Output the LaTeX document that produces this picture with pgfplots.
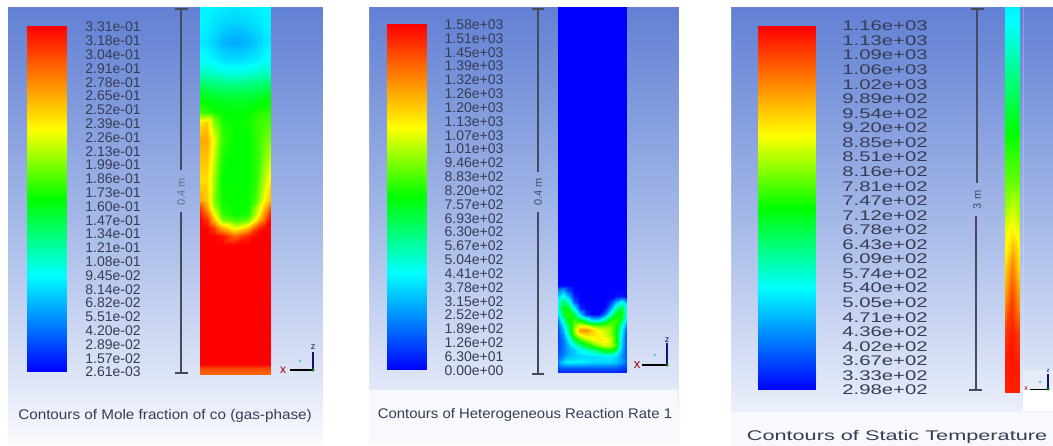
\documentclass[border=0pt]{standalone}
\usepackage{pgfplots}
\pgfplotsset{compat=1.18}
\usepackage{pgfplotstable}
\usepackage{fontspec}
\setmainfont{Liberation Sans}
\newfontfamily\widefont[FakeStretch=1.45]{Liberation Sans}
\newfontfamily\titleA[FakeStretch=1.09]{Liberation Sans}
\newfontfamily\titleB[FakeStretch=1.065]{Liberation Sans}
\newfontfamily\titleC[FakeStretch=1.55]{Liberation Sans}
\definecolor{tc}{RGB}{55,60,82}
\definecolor{barc}{RGB}{70,75,92}
\definecolor{navy}{RGB}{20,20,110}
\definecolor{panelend}{RGB}{247,249,253}
\definecolor{triadbox}{RGB}{232,236,248}
\pgfplotsset{
 colormap={fluent}{rgb255(0)=(0,0,255); rgb255(28)=(0,255,255); rgb255(50)=(0,255,0); rgb255(70)=(255,255,0); rgb255(100)=(255,0,0)},
 colormap={bg}{rgb255(0)=(98,128,212); rgb255(49)=(165,185,232); rgb255(85)=(222,229,247); rgb255(100)=(250,251,254)},
 lab/.style={draw=none,mark=none,nodes near coords,point meta=explicit symbolic,
   every node near coord/.style={anchor=center,inner sep=0pt,text=tc,font=\fontsize{14}{14}\selectfont}},
 labw/.style={lab,every node near coord/.style={anchor=center,inner sep=0pt,text=tc,font=\widefont\fontsize{14}{14}\selectfont}},
 bar/.style={barc,line width=1.8pt,forget plot},
 field/.style={surf,shader=interp,colormap name=fluent},
}
\pgfplotstableread{
c v
0 0
1 0
0 0.14
1 0.14
0 0.28
1 0.28
0 0.39
1 0.39
0 0.50
1 0.50
0 0.60
1 0.60
0 0.70
1 0.70
0 0.85
1 0.85
0 1
1 1
}\cbar
\begin{document}
\begin{tikzpicture}
\begin{axis}[scale only axis,width=1053pt,height=446pt,xmin=0,xmax=1053,ymin=0,ymax=446,zmin=0,zmax=1,
 y dir=reverse,view={0}{90},hide axis,clip=false,point meta min=0,point meta max=1]
\path (axis cs:0,0,0) (axis cs:1053,446,0);
% backgrounds
\addplot3[surf,shader=interp,colormap name=bg,mesh/rows=2,mesh/cols=2] coordinates {(8,7,0)(322,7,0) (8,445,1)(322,445,1)};
\addplot3[surf,shader=interp,colormap name=bg,mesh/rows=2,mesh/cols=2] coordinates {(369,7,0)(678,7,0) (369,445,1)(678,445,1)};
\addplot3[surf,shader=interp,colormap name=bg,mesh/rows=2,mesh/cols=2] coordinates {(731,7,0)(1053,7,0) (731,446,1)(1053,446,1)};
\addplot[draw=none,fill=panelend] coordinates {(369,390)(678,390)(678,444)(369,444)} \closedcycle;
\addplot[draw=none,fill=panelend] coordinates {(731,412)(1053,412)(1053,446)(731,446)} \closedcycle;
\addplot[draw=none,fill=triadbox] coordinates {(1023,370)(1053,370)(1053,390)(1023,390)} \closedcycle;
\addplot[draw=none,fill=white] coordinates {(1023,390)(1053,390)(1053,411)(1023,411)} \closedcycle;
% colour bars
\addplot3[surf,shader=interp,colormap name=fluent,mesh/cols=2] table[x expr=27+39*\thisrow{c},y expr=372-346*\thisrow{v},z=v]{\cbar};
\addplot3[surf,shader=interp,colormap name=fluent,mesh/cols=2] table[x expr=387+39*\thisrow{c},y expr=370-346*\thisrow{v},z=v]{\cbar};
\addplot3[surf,shader=interp,colormap name=fluent,mesh/cols=2] table[x expr=758+57*\thisrow{c},y expr=390-364*\thisrow{v},z=v]{\cbar};
% field 1: mole fraction of CO
\addplot3[field,mesh/cols=9] coordinates {
(200,7,.27)(207,7,.27)(214,7,.265)(222,7,.26)(235,7,.25)(248,7,.26)(256,7,.265)(264,7,.27)(270,7,.27)
(200,22,.27)(207,22,.265)(214,22,.25)(222,22,.24)(235,22,.23)(248,22,.24)(256,22,.25)(264,22,.265)(270,22,.27)
(200,42,.26)(207,42,.25)(214,42,.23)(222,42,.2)(235,42,.185)(248,42,.2)(256,42,.22)(264,42,.25)(270,42,.26)
(200,60,.29)(207,60,.28)(214,60,.27)(222,60,.25)(235,60,.24)(248,60,.25)(256,60,.26)(264,60,.28)(270,60,.29)
(200,72,.33)(207,72,.33)(214,72,.32)(222,72,.31)(235,72,.30)(248,72,.31)(256,72,.32)(264,72,.33)(270,72,.33)
(200,86,.43)(207,86,.42)(214,86,.41)(222,86,.40)(235,86,.40)(248,86,.40)(256,86,.41)(264,86,.42)(270,86,.43)
(200,100,.50)(207,100,.49)(214,100,.48)(222,100,.47)(235,100,.47)(248,100,.47)(256,100,.48)(264,100,.49)(270,100,.50)
(200,112,.55)(207,112,.53)(214,112,.51)(222,112,.50)(235,112,.49)(248,112,.50)(256,112,.52)(264,112,.53)(270,112,.53)
(200,122,.72)(207,122,.76)(214,122,.60)(222,122,.52)(235,122,.50)(248,122,.51)(256,122,.54)(264,122,.56)(270,122,.55)
(200,140,.80)(207,140,.80)(214,140,.68)(222,140,.54)(235,140,.50)(248,140,.50)(256,140,.53)(264,140,.58)(270,140,.60)
(200,180,.74)(207,180,.74)(214,180,.62)(222,180,.50)(235,180,.50)(248,180,.50)(256,180,.53)(264,180,.64)(270,180,.72)
(200,200,.80)(207,200,.76)(214,200,.60)(222,200,.51)(235,200,.50)(248,200,.51)(256,200,.56)(264,200,.70)(270,200,.78)
(200,207,.92)(207,207,.80)(214,207,.63)(222,207,.52)(235,207,.50)(248,207,.51)(256,207,.62)(264,207,.76)(270,207,.88)
(200,214,.97)(207,214,.88)(214,214,.70)(222,214,.54)(235,214,.50)(248,214,.52)(256,214,.65)(264,214,.82)(270,214,.96)
(200,220,1)(207,220,.95)(214,220,.78)(222,220,.60)(235,220,.55)(248,220,.58)(256,220,.72)(264,220,.88)(270,220,1)
(200,228,1)(207,228,1)(214,228,.93)(222,228,.80)(235,228,.68)(248,228,.78)(256,228,.92)(264,228,.99)(270,228,1)
(200,236,1)(207,236,1)(214,236,1)(222,236,.98)(235,236,.88)(248,236,.96)(256,236,1)(264,236,1)(270,236,1)
(200,245,1)(207,245,1)(214,245,1)(222,245,1)(235,245,1)(248,245,1)(256,245,1)(264,245,1)(270,245,1)
(200,364,1)(207,364,1)(214,364,1)(222,364,1)(235,364,1)(248,364,1)(256,364,1)(264,364,1)(270,364,1)
(200,368,.92)(207,368,.92)(214,368,.92)(222,368,.92)(235,368,.92)(248,368,.92)(256,368,.92)(264,368,.92)(270,368,.92)
(200,375,.87)(207,375,.87)(214,375,.87)(222,375,.87)(235,375,.87)(248,375,.87)(256,375,.87)(264,375,.87)(270,375,.87)
};
% field 2: reaction rate
\addplot3[field,mesh/cols=13] coordinates {
(558,7,0)(563,7,0)(568,7,0)(574,7,0)(580,7,0)(586,7,0)(592,7,0)(598,7,0)(604,7,0)(610,7,0)(616,7,0)(621,7,0)(626,7,0)
(558,285,0)(563,285,0)(568,285,0)(574,285,0)(580,285,0)(586,285,0)(592,285,0)(598,285,0)(604,285,0)(610,285,0)(616,285,0)(621,285,0)(626,285,0)
(558,290,.15)(563,290,.18)(568,290,.08)(574,290,0)(580,290,0)(586,290,0)(592,290,0)(598,290,0)(604,290,0)(610,290,0)(616,290,0)(621,290,0)(626,290,0)
(558,296,.22)(563,296,.30)(568,296,.20)(574,296,.03)(580,296,0)(586,296,0)(592,296,0)(598,296,0)(604,296,0)(610,296,0)(616,296,.02)(621,296,.03)(626,296,0)
(558,302,.30)(563,302,.42)(568,302,.35)(574,302,.10)(580,302,0)(586,302,0)(592,302,0)(598,302,0)(604,302,0)(610,302,.05)(616,302,.20)(621,302,.30)(626,302,.20)
(558,308,.30)(563,308,.50)(568,308,.48)(574,308,.28)(580,308,.05)(586,308,0)(592,308,0)(598,308,0)(604,308,0)(610,308,.15)(616,308,.35)(621,308,.45)(626,308,.30)
(558,314,.25)(563,314,.45)(568,314,.55)(574,314,.45)(580,314,.22)(586,314,.05)(592,314,0)(598,314,0)(604,314,.10)(610,314,.30)(616,314,.48)(621,314,.50)(626,314,.30)
(558,320,.15)(563,320,.35)(568,320,.50)(574,320,.55)(580,320,.50)(586,320,.38)(592,320,.25)(598,320,.25)(604,320,.35)(610,320,.50)(616,320,.55)(621,320,.45)(626,320,.25)
(558,325,.10)(563,325,.25)(568,325,.42)(574,325,.60)(580,325,.68)(586,325,.65)(592,325,.58)(598,325,.55)(604,325,.55)(610,325,.58)(616,325,.52)(621,325,.35)(626,325,.18)
(558,330,.08)(563,330,.20)(568,330,.38)(574,330,.62)(580,330,.82)(586,330,.84)(592,330,.76)(598,330,.70)(604,330,.66)(610,330,.62)(616,330,.50)(621,330,.30)(626,330,.12)
(558,335,.07)(563,335,.16)(568,335,.32)(574,335,.56)(580,335,.70)(586,335,.74)(592,335,.74)(598,335,.72)(604,335,.68)(610,335,.62)(616,335,.50)(621,335,.28)(626,335,.10)
(558,340,.07)(563,340,.13)(568,340,.25)(574,340,.42)(580,340,.55)(586,340,.62)(592,340,.68)(598,340,.72)(604,340,.72)(610,340,.68)(616,340,.50)(621,340,.26)(626,340,.10)
(558,345,.08)(563,345,.13)(568,345,.20)(574,345,.30)(580,345,.40)(586,345,.48)(592,345,.55)(598,345,.62)(604,345,.68)(610,345,.66)(616,345,.55)(621,345,.25)(626,345,.10)
(558,350,.08)(563,350,.13)(568,350,.18)(574,350,.22)(580,350,.28)(586,350,.32)(592,350,.36)(598,350,.42)(604,350,.48)(610,350,.52)(616,350,.45)(621,350,.22)(626,350,.10)
(558,356,.10)(563,356,.15)(568,356,.20)(574,356,.22)(580,356,.23)(586,356,.24)(592,356,.24)(598,356,.25)(604,356,.26)(610,356,.27)(616,356,.24)(621,356,.18)(626,356,.10)
(558,362,.15)(563,362,.24)(568,362,.27)(574,362,.27)(580,362,.27)(586,362,.26)(592,362,.24)(598,362,.24)(604,362,.24)(610,362,.24)(616,362,.22)(621,362,.18)(626,362,.12)
(558,368,.08)(563,368,.10)(568,368,.10)(574,368,.10)(580,368,.10)(586,368,.10)(592,368,.10)(598,368,.10)(604,368,.10)(610,368,.10)(616,368,.10)(621,368,.08)(626,368,.06)
(558,373,.03)(563,373,.03)(568,373,.03)(574,373,.03)(580,373,.03)(586,373,.03)(592,373,.03)(598,373,.03)(604,373,.03)(610,373,.03)(616,373,.03)(621,373,.03)(626,373,.03)
};
% field 3: static temperature
\addplot3[field,mesh/cols=3] coordinates {
(1005,7,.26)(1012,7,.26)(1019,7,.26)
(1005,33,.30)(1012,33,.30)(1019,33,.30)
(1005,93,.42)(1012,93,.42)(1019,93,.42)
(1005,133,.50)(1012,133,.50)(1019,133,.50)
(1005,183,.58)(1012,183,.58)(1019,183,.58)
(1005,217,.64)(1012,217,.68)(1019,217,.64)
(1005,233,.68)(1012,233,.72)(1019,233,.68)
(1005,267,.74)(1012,267,.85)(1019,267,.74)
(1005,300,.82)(1012,300,.93)(1019,300,.82)
(1005,333,.93)(1012,333,.97)(1019,333,.93)
(1005,367,.97)(1012,367,.98)(1019,367,.97)
(1005,393,.96)(1012,393,.96)(1019,393,.96)
};
% scale bars
\addplot[bar] coordinates {(181,9)(181,170)};
\addplot[bar] coordinates {(181,212)(181,373)};
\addplot[bar] coordinates {(175,9)(188,9)};
\addplot[bar] coordinates {(175,373)(188,373)};
\addplot[bar] coordinates {(538,9)(538,172)};
\addplot[bar] coordinates {(538,212)(538,374)};
\addplot[bar] coordinates {(532,9)(544,9)};
\addplot[bar] coordinates {(532,374)(544,374)};
\addplot[bar] coordinates {(977,9)(977,183)};
\addplot[bar] coordinates {(976,216)(976,390)};
\addplot[bar] coordinates {(971,9)(984,9)};
\addplot[bar] coordinates {(969,390)(982,390)};
\node[rotate=90,text=barc!80!white,font=\fontsize{11}{11}\selectfont] at (axis cs:181,192,0) {0.4 m};
\node[rotate=90,text=barc,font=\fontsize{11}{11}\selectfont] at (axis cs:538,192,0) {0.4 m};
\node[rotate=90,text=barc,font=\fontsize{11}{11}\selectfont] at (axis cs:977,200,0) {3 m};
% triads
\addplot[navy,line width=1.6pt,forget plot] coordinates {(313,352)(313,370)};
\addplot[black,line width=1.2pt,forget plot] coordinates {(290,370)(313,370)};
\addplot[navy,line width=1.6pt,forget plot] coordinates {(667,343)(667,365)};
\addplot[black,line width=1.2pt,forget plot] coordinates {(642,365)(667,365)};
\addplot[navy,line width=1.2pt,forget plot] coordinates {(1048,374)(1048,389)};
\addplot[black,line width=.9pt,forget plot] coordinates {(1030,389)(1048,389)};
\addplot[only marks,mark=*,mark size=1.2pt,cyan!70!white,forget plot] coordinates {(300,361)(655,355)(1040,382)};
\addplot[only marks,mark=*,mark size=1.3pt,green!45!black,forget plot] coordinates {(313,370)(667,365)(1048,389)};
\node[text=red!65!black,font=\fontsize{12}{12}\selectfont,inner sep=0pt] at (axis cs:283,370,0) {x};
\node[text=red!65!black,font=\fontsize{13}{13}\selectfont,inner sep=0pt] at (axis cs:637,365,0) {x};
\node[text=red!65!black,font=\fontsize{7}{7}\selectfont,inner sep=0pt] at (axis cs:1026,389,0) {x};
\node[text=navy,font=\fontsize{9}{9}\selectfont,inner sep=0pt] at (axis cs:313,347,0) {z};
\node[text=navy,font=\fontsize{9}{9}\selectfont,inner sep=0pt] at (axis cs:667,340,0) {z};
\node[text=navy,font=\fontsize{6}{6}\selectfont,inner sep=0pt] at (axis cs:1048,371,0) {z};
% colour bar labels
\addplot[lab] table[x=x,y=y,meta=l] {
x y l
113 27 3.31e-01
113 40.8 3.18e-01
113 54.6 3.04e-01
113 68.4 2.91e-01
113 82.2 2.78e-01
113 96 2.65e-01
113 109.8 2.52e-01
113 123.6 2.39e-01
113 137.4 2.26e-01
113 151.2 2.13e-01
113 165 1.99e-01
113 178.8 1.86e-01
113 192.6 1.73e-01
113 206.4 1.60e-01
113 220.2 1.47e-01
113 234 1.34e-01
113 247.8 1.21e-01
113 261.6 1.08e-01
113 275.4 9.45e-02
113 289.2 8.14e-02
113 303 6.82e-02
113 316.8 5.51e-02
113 330.6 4.20e-02
113 344.4 2.89e-02
113 358.2 1.57e-02
113 372 2.61e-03
};
\addplot[lab] table[x=x,y=y,meta=l] {
x y l
474 24.5 1.58e+03
474 38.3 1.51e+03
474 52.2 1.45e+03
474 66 1.39e+03
474 79.9 1.32e+03
474 93.7 1.26e+03
474 107.5 1.20e+03
474 121.4 1.13e+03
474 135.2 1.07e+03
474 149.1 1.01e+03
474 162.9 9.46e+02
474 176.7 8.83e+02
474 190.6 8.20e+02
474 204.4 7.57e+02
474 218.3 6.93e+02
474 232.1 6.30e+02
474 245.9 5.67e+02
474 259.8 5.04e+02
474 273.6 4.41e+02
474 287.5 3.78e+02
474 301.3 3.15e+02
474 315.1 2.52e+02
474 329 1.89e+02
474 342.8 1.26e+02
474 356.7 6.30e+01
474 370.5 0.00e+00
};
\addplot[labw] table[x=x,y=y,meta=l] {
x y l
885 26 1.16e+03
885 40.6 1.13e+03
885 55.1 1.09e+03
885 69.7 1.06e+03
885 84.2 1.02e+03
885 98.8 9.89e+02
885 113.4 9.54e+02
885 127.9 9.20e+02
885 142.5 8.85e+02
885 157 8.51e+02
885 171.6 8.16e+02
885 186.2 7.81e+02
885 200.7 7.47e+02
885 215.3 7.12e+02
885 229.8 6.78e+02
885 244.4 6.43e+02
885 259 6.09e+02
885 273.5 5.74e+02
885 288.1 5.40e+02
885 302.6 5.05e+02
885 317.2 4.71e+02
885 331.8 4.36e+02
885 346.3 4.02e+02
885 360.9 3.67e+02
885 375.4 3.33e+02
885 390 2.98e+02
};
% titles
\node[text=tc,font=\titleA\fontsize{14}{14}\selectfont,inner sep=0pt] at (axis cs:165,416,0) {Contours of Mole fraction of co (gas-phase)};
\node[text=tc,font=\titleB\fontsize{14}{14}\selectfont,inner sep=0pt] at (axis cs:525,415,0) {Contours of Heterogeneous Reaction Rate 1};
\node[text=tc,font=\titleC\fontsize{14}{14}\selectfont,inner sep=0pt] at (axis cs:897,437,0) {Contours of Static Temperature};
\end{axis}
\end{tikzpicture}
\end{document}
